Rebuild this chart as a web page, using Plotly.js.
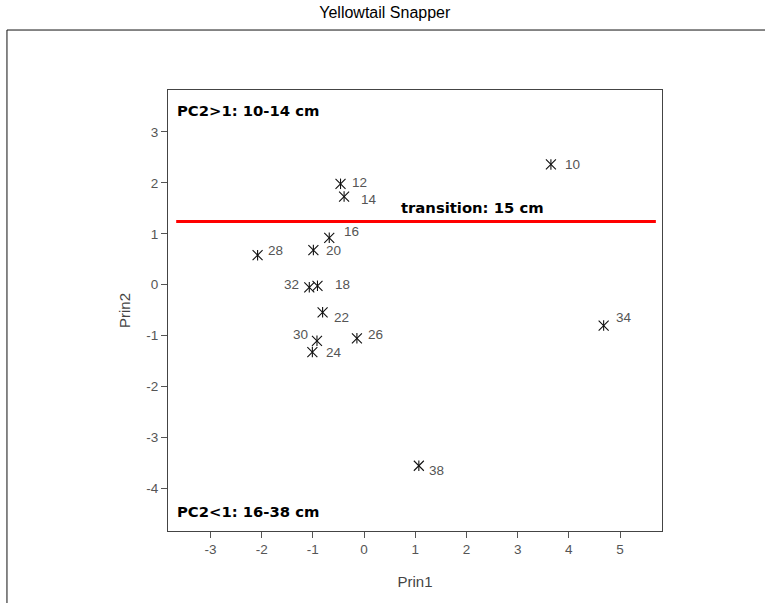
<!DOCTYPE html>
<html>
<head>
<meta charset="utf-8">
<script src="https://cdn.plot.ly/plotly-3.0.1.min.js"></script>
<style>
  html, body { margin: 0; padding: 0; background: #fff; }
  #chart { width: 765px; height: 603px; }
</style>
</head>
<body>
<div id="chart"></div>
<script>
// Principal component scores by length class (cm)
const lengthLabels = ['10', '12', '14', '16', '18', '20', '22', '24', '26', '28', '30', '32', '34', '38'];
const prin1 = [3.65, -0.46, -0.39, -0.68, -0.91, -0.99, -0.81, -1.01, -0.14, -2.08, -0.92, -1.07, 4.68, 1.07];
const prin2 = [2.36, 1.98, 1.73, 0.92, -0.02, 0.68, -0.54, -1.32, -1.05, 0.58, -1.10, -0.05, -0.80, -3.55];

// Transition between the two length groups
const transitionX = [-3.67, 5.70];
const transitionY = [1.24, 1.24];
const transitionText = 'transition: 15 cm';
const transitionTextX = 0.684;
const transitionTextY = 1.52;

const xTicks = [-3, -2, -1, 0, 1, 2, 3, 4, 5];
const xTickText = ['-3', '-2', '-1', '0', '1', '2', '3', '4', '5'];
const yTicks = [-4, -3, -2, -1, 0, 1, 2, 3];
const yTickText = ['-4', '-3', '-2', '-1', '0', '1', '2', '3'];

// Label placement around each star: [anchor side, shift right px, shift down px]
const labelPlacement = {
  '10': ['left', 14, 0],
  '12': ['left', 11, -1.5],
  '14': ['left', 17, 2.5],
  '16': ['left', 15, -6],
  '18': ['left', 17.5, -1.5],
  '20': ['left', 12.5, 0],
  '22': ['left', 11.5, 5],
  '24': ['left', 13.5, 0],
  '26': ['left', 11.5, -4],
  '28': ['left', 10, -5],
  '30': ['right', -8.5, -6.5],
  '32': ['right', -10, -3],
  '34': ['left', 12, -8],
  '38': ['left', 10, 5]
};

const greyText = '#555';
const labelFont = { family: 'Liberation Sans, Arial, sans-serif', size: 13.5, color: greyText };
const boldFont = { family: 'DejaVu Sans, Liberation Sans, Arial, sans-serif', size: 14.8, color: '#000', weight: 'bold' };

const starLine = { color: '#111', width: 1.1 };

const traces = [
  {
    type: 'scatter', mode: 'lines',
    x: transitionX, y: transitionY,
    line: { color: '#ff0000', width: 3 },
    hoverinfo: 'skip'
  },
  {
    type: 'scatter', mode: 'markers',
    x: prin1, y: prin2,
    marker: { symbol: 'x-thin-open', size: 10, color: '#111', line: starLine },
    hoverinfo: 'skip'
  },
  {
    type: 'scatter', mode: 'markers',
    x: prin1, y: prin2,
    text: lengthLabels,
    marker: { symbol: 'line-ns-open', size: 7.5, color: '#111', line: starLine },
    hovertemplate: '%{text} cm<br>Prin1 %{x}<br>Prin2 %{y}<extra></extra>'
  }
];

const pad = 2; // annotation box padding (border + borderpad)
const annotations = lengthLabels.map((lab, i) => {
  const p = labelPlacement[lab];
  return {
    x: prin1[i], y: prin2[i], xref: 'x', yref: 'y',
    text: lab, showarrow: false,
    xanchor: p[0], yanchor: 'middle',
    xshift: p[0] === 'left' ? p[1] - pad : p[1] + pad,
    yshift: -p[2],
    font: labelFont
  };
});

annotations.push(
  {
    x: transitionTextX, y: transitionTextY, xref: 'x', yref: 'y',
    text: transitionText, showarrow: false,
    xanchor: 'left', yanchor: 'middle', font: boldFont
  },
  {
    x: 0, y: 1, xref: 'paper', yref: 'paper',
    text: 'PC2>1: 10-14 cm', showarrow: false,
    xanchor: 'left', yanchor: 'middle', xshift: 7, yshift: -20, font: boldFont
  },
  {
    x: 0, y: 0, xref: 'paper', yref: 'paper',
    text: 'PC2<1: 16-38 cm', showarrow: false,
    xanchor: 'left', yanchor: 'middle', xshift: 7, yshift: 19.5, font: boldFont
  }
);

const axisCommon = {
  showgrid: false, zeroline: false,
  showline: true, linecolor: '#444', linewidth: 1, mirror: true,
  ticks: 'outside', ticklen: 6, tickwidth: 1, tickcolor: '#555',
  tickfont: { family: 'Liberation Sans, Arial, sans-serif', size: 13.5, color: greyText },
  fixedrange: true
};

const layout = {
  width: 765, height: 603,
  margin: { l: 168, r: 103, t: 90, b: 72, pad: 0 },
  paper_bgcolor: '#fff', plot_bgcolor: '#fff',
  showlegend: false,
  title: {
    text: 'Yellowtail Snapper',
    font: { family: 'Liberation Sans, Arial, sans-serif', size: 16, color: '#000' },
    x: 0.503, xref: 'container', xanchor: 'center',
    y: 0.980, yref: 'container', yanchor: 'middle'
  },
  xaxis: Object.assign({}, axisCommon, {
    range: [-3.83, 5.82],
    tickmode: 'array', tickvals: xTicks, ticktext: xTickText,
    title: { text: 'Prin1', font: { family: 'Liberation Sans, Arial, sans-serif', size: 15, color: '#444' }, standoff: 20 }
  }),
  yaxis: Object.assign({}, axisCommon, {
    range: [-4.83, 3.82],
    tickmode: 'array', tickvals: yTicks, ticktext: yTickText,
    title: { text: 'Prin2', font: { family: 'Liberation Sans, Arial, sans-serif', size: 15, color: '#444' }, standoff: 12 }
  }),
  annotations: annotations,
  shapes: [
    // outer frame (left and top edges)
    { type: 'line', xref: 'paper', yref: 'paper', x0: -0.326, x1: 2, y0: 1.136, y1: 1.136, line: { color: '#111', width: 1 }, layer: 'above' },
    { type: 'line', xref: 'paper', yref: 'paper', x0: -0.326, x1: -0.326, y0: 1.136, y1: -1, line: { color: '#111', width: 1 }, layer: 'above' }
  ]
};

Plotly.newPlot('chart', traces, layout, { displayModeBar: false });
</script>
</body>
</html>
